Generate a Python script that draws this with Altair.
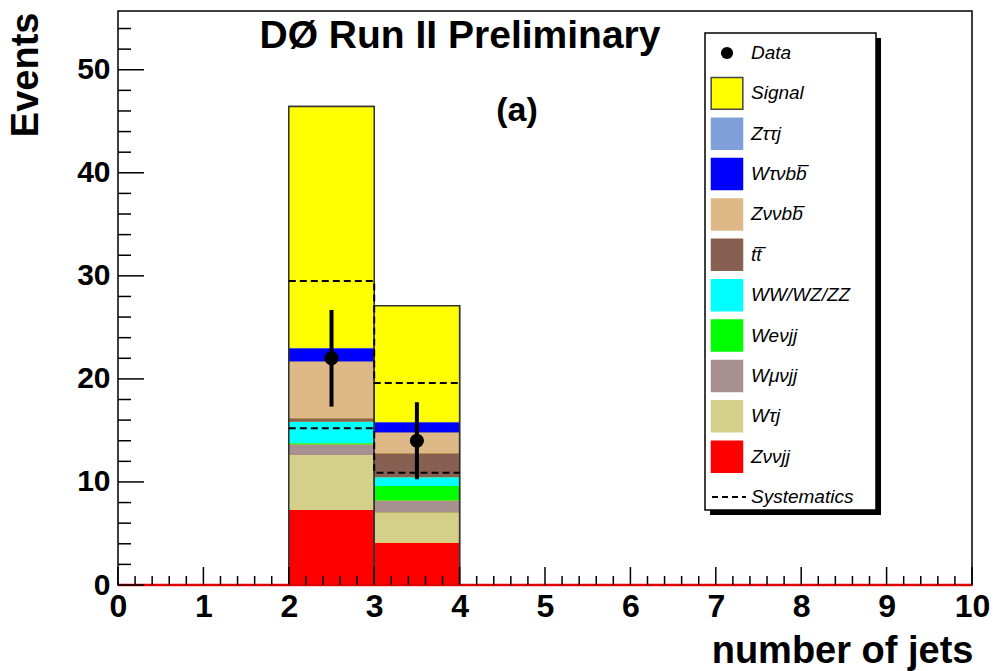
import altair as alt
import pandas as pd

# ---------------- data ----------------
bin_lo = [2, 3]
bin_hi = [3, 4]
components = ["Zννjj", "Wτj", "Wμνjj", "Weνjj", "WW/WZ/ZZ", "tt\u0305", "Zννbb\u0305", "Wτνbb\u0305", "Zττj", "Signal"]
comp_colors = ["#ff0000", "#d4d08a", "#a89091", "#00ff00", "#00ffff", "#876052", "#deb887", "#0000ff", "#7f9fd9", "#ffff00"]
bin2_vals = [7.28, 5.34, 1.04, 0.10, 2.09, 0.33, 5.50, 1.30, 0.05, 23.40]
bin3_vals = [4.11, 2.91, 1.17, 1.42, 0.84, 2.33, 2.01, 1.01, 0.05, 11.25]

data_x = [2.5, 3.5]
data_y = [22, 14]
data_err = [4.69, 3.74]

syst_x = [2, 3, 4]
syst_up = [29.5, 19.6, 19.6]
syst_dn = [15.2, 10.9, 10.9]

x_major = list(range(0, 11))
x_minor = [i / 5 for i in range(0, 51) if i % 5]
y_major = [0, 10, 20, 30, 40, 50]
y_minor = [v for v in range(0, 56, 2) if v % 10]

legend_labels = ["Data", "Signal", "Zττj", "Wτνbb\u0305", "Zννbb\u0305", "tt\u0305", "WW/WZ/ZZ",
                 "Weνjj", "Wμνjj", "Wτj", "Zννjj", "Systematics"]

title_text = "DØ Run II Preliminary"
panel_text = "(a)"

FONT = "Liberation Sans"

# ---------------- tables ----------------
rows = []
for lo, hi, vals in zip(bin_lo, bin_hi, [bin2_vals, bin3_vals]):
    cum = 0.0
    for name, v in zip(components, vals):
        rows.append({"x0": lo, "x1": hi, "y0": cum, "y1": cum + v, "comp": name})
        cum += v
stack_df = pd.DataFrame(rows)
sig_df = pd.DataFrame({"x0": bin_lo, "x1": bin_hi, "y0": [0, 0],
                       "y1": [sum(bin2_vals), sum(bin3_vals)]})
pts_df = pd.DataFrame({"x": data_x, "y": data_y,
                       "lo": [y - e for y, e in zip(data_y, data_err)],
                       "hi": [y + e for y, e in zip(data_y, data_err)]})
syst_df = pd.DataFrame({"x": syst_x, "up": syst_up, "dn": syst_dn})

xs = alt.Scale(domain=[0, 10], nice=False, zero=False)
ys = alt.Scale(domain=[0, 55.7], nice=False, zero=False)

xaxis = alt.Axis(values=x_major, ticks=False, tickSize=0, domain=False, grid=False,
                 labelFont=FONT, labelFontWeight="bold", labelFontSize=32, labelColor="black",
                 labelPadding=6, labelFlush=False, labelOverlap=False, format="d",
                 titleFont=FONT, titleFontWeight="bold", titleFontSize=38, titleColor="black",
                 titleAnchor="end", titleAlign="right", titleBaseline="alphabetic",
                 titleX=855, titleY=77)
yaxis = alt.Axis(values=y_major, ticks=False, tickSize=0, domain=False, grid=False,
                 labelFont=FONT, labelFontWeight="bold", labelFontSize=30, labelColor="black",
                 labelPadding=8, labelFlush=False, labelOverlap=False, format="d",
                 titleFont=FONT, titleFontWeight="bold", titleFontSize=38, titleColor="black",
                 titleAngle=270, titleAlign="right", titleBaseline="alphabetic",
                 titleX=-81, titleY=1)

XT = "number of jets"
YT = "Events"

def X(f):
    return alt.X(f, scale=xs, axis=xaxis, title=XT)

def Y(f):
    return alt.Y(f, scale=ys, axis=yaxis, title=YT)

sig_outline = alt.Chart(sig_df).mark_rect(fill="#ffff00", stroke="#333333", strokeWidth=1.5).encode(
    x=X("x0:Q"), x2="x1:Q", y=Y("y0:Q"), y2="y1:Q")

bars = alt.Chart(stack_df).mark_rect(strokeWidth=0).encode(
    x=X("x0:Q"), x2="x1:Q", y=Y("y0:Q"), y2="y1:Q",
    color=alt.Color("comp:N", scale=alt.Scale(domain=components, range=comp_colors), legend=None))

sig_top = alt.Chart(sig_df).mark_rect(fillOpacity=0, stroke="#333333", strokeWidth=1.5).encode(
    x=X("x0:Q"), x2="x1:Q", y=Y("y0:Q"), y2="y1:Q")

zero_line = alt.Chart(pd.DataFrame({"a": [0], "b": [10], "y": [0]})).mark_rule(
    color="#e00000", strokeWidth=2.5).encode(x=X("a:Q"), x2="b:Q", y=Y("y:Q"))

syst_up_line = alt.Chart(syst_df).mark_line(interpolate="step-after", color="black",
                                            strokeWidth=2, strokeDash=[7, 4]).encode(
    x=X("x:Q"), y=Y("up:Q"))
syst_dn_line = alt.Chart(syst_df).mark_line(interpolate="step-after", color="black",
                                            strokeWidth=2, strokeDash=[7, 4]).encode(
    x=X("x:Q"), y=Y("dn:Q"))

err = alt.Chart(pts_df).mark_rule(color="black", strokeWidth=4).encode(
    x=X("x:Q"), y=Y("lo:Q"), y2="hi:Q")
dots = alt.Chart(pts_df).mark_circle(color="black", opacity=1, size=200).encode(
    x=X("x:Q"), y=Y("y:Q"))

H = 574
xt_major = alt.Chart(pd.DataFrame({"v": x_major})).mark_rule(color="black", strokeWidth=1.5).encode(
    x=X("v:Q"), y=alt.value(H), y2=alt.value(H - 18))
xt_minor = alt.Chart(pd.DataFrame({"v": x_minor})).mark_rule(color="black", strokeWidth=1.5).encode(
    x=X("v:Q"), y=alt.value(H), y2=alt.value(H - 9))
yt_major = alt.Chart(pd.DataFrame({"v": y_major})).mark_rule(color="black", strokeWidth=1.5).encode(
    y=Y("v:Q"), x=alt.value(0), x2=alt.value(26))
yt_minor = alt.Chart(pd.DataFrame({"v": y_minor})).mark_rule(color="black", strokeWidth=1.5).encode(
    y=Y("v:Q"), x=alt.value(0), x2=alt.value(13))

ann_df = pd.DataFrame({"t": [title_text]})
title = alt.Chart(ann_df).mark_text(font=FONT, fontWeight="bold", fontSize=39, color="black",
                                    align="center", baseline="alphabetic").encode(
    text="t:N", x=alt.value(342), y=alt.value(37))
panel = alt.Chart(pd.DataFrame({"t": [panel_text]})).mark_text(
    font=FONT, fontWeight="bold", fontSize=34, color="black", align="center",
    baseline="alphabetic").encode(text="t:N", x=alt.value(399), y=alt.value(110))

main = alt.layer(sig_outline, bars, sig_top, zero_line, syst_up_line, syst_dn_line,
                 err, dots, xt_major, xt_minor, yt_major, yt_minor, title, panel)

# ---------------- legend ----------------
leg_colors = ["black", "#ffff00", "#7f9fd9", "#0000ff", "#deb887", "#876052", "#00ffff",
              "#00ff00", "#a89091", "#d4d08a", "#ff0000", "black"]
leg_df = pd.DataFrame({"row": list(range(len(legend_labels))), "label": legend_labels,
                       "color": leg_colors})
rs = alt.Scale(domain=[0, 11], range=[42, 486])
RY = alt.Y("row:Q", scale=rs, axis=None)

one = pd.DataFrame({"k": [0]})
shadow = alt.Chart(one).mark_rect(fill="black").encode(
    x=alt.value(592), x2=alt.value(763), y=alt.value(27), y2=alt.value(504))
box = alt.Chart(one).mark_rect(fill="white", stroke="black", strokeWidth=1.5).encode(
    x=alt.value(587), x2=alt.value(758), y=alt.value(22), y2=alt.value(499))

sw = alt.Chart(leg_df).transform_filter(
    (alt.datum.row >= 2) & (alt.datum.row <= 10)).mark_square(size=1056, opacity=1).encode(
    x=alt.value(609), y=RY, fill=alt.Color("color:N", scale=None))
sw_sig = alt.Chart(leg_df).transform_filter(alt.datum.row == 1).mark_square(
    size=1000, opacity=1, stroke="#444444", strokeWidth=1.5).encode(
    x=alt.value(609), y=RY, fill=alt.Color("color:N", scale=None))
sw_dot = alt.Chart(leg_df).transform_filter(alt.datum.row == 0).mark_circle(
    size=150, color="black", opacity=1).encode(x=alt.value(609), y=RY)
sw_dash = alt.Chart(leg_df).transform_filter(alt.datum.row == 11).mark_rule(
    color="black", strokeWidth=2, strokeDash=[6, 4]).encode(
    x=alt.value(594), x2=alt.value(628), y=RY)
labels = alt.Chart(leg_df).mark_text(font=FONT, fontStyle="italic", fontSize=19, color="black",
                                     align="left", baseline="middle").encode(
    x=alt.value(633), y=RY, text="label:N")

legend = alt.layer(shadow, box, sw, sw_sig, sw_dot, sw_dash, labels)

chart = alt.layer(main, legend).resolve_scale(y="independent").properties(
    width=854, height=574,
    padding={"left": 118, "top": 11, "right": 24, "bottom": 86},
    autosize=alt.AutoSizeParams(type="none"),
    background="white",
).configure_view(stroke="black", strokeWidth=1.5)

chart.save("out.html", embed_options={"renderer": "svg", "actions": False})
